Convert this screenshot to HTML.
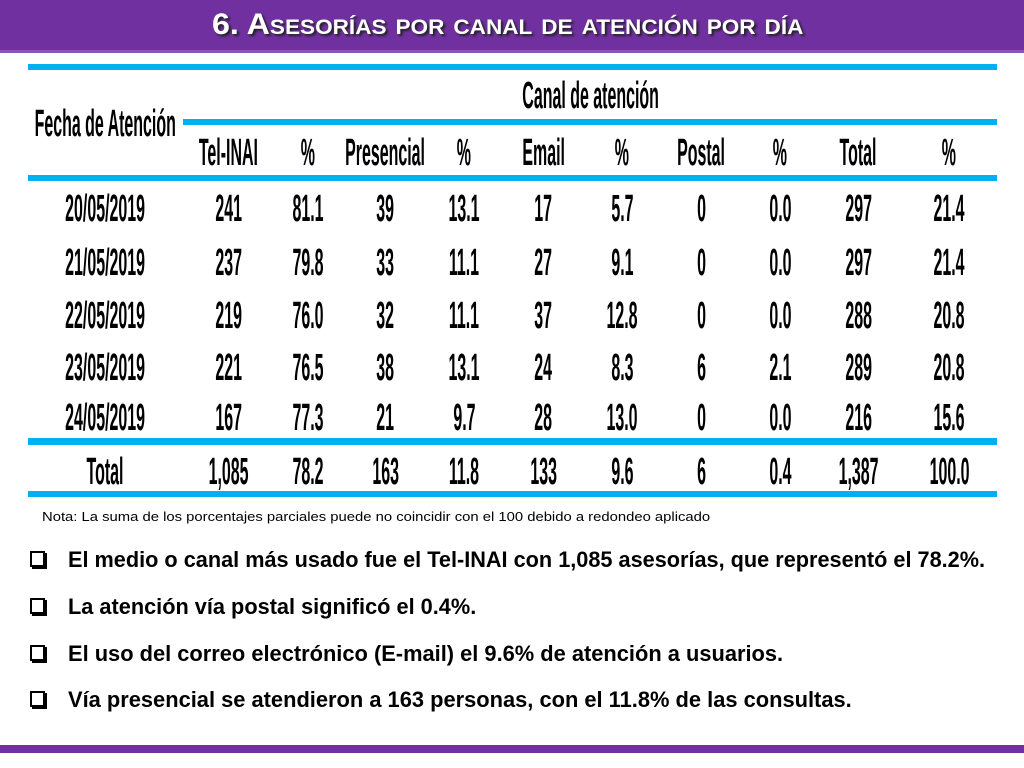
<!DOCTYPE html>
<html><head><meta charset="utf-8">
<style>
body{margin:0;width:1024px;height:768px;background:#fff;position:relative;overflow:hidden;font-family:"Liberation Sans",sans-serif}
.abs{position:absolute;white-space:nowrap}
.fit{transform-origin:left top;display:inline-block}
.bar{position:absolute;background:#00b0f0}
.cell{position:absolute;font-weight:bold;font-size:38px;line-height:38px;color:#000;white-space:nowrap;transform-origin:center center}
</style></head><body>
<div class="abs" style="left:0;top:0;width:1024px;height:50px;background:#7030a0;border-bottom:3px solid #8a55b5"></div>
<div class="abs fit" data-w="591" style="left:212px;top:8px;font-size:30px;font-weight:bold;color:#fff;font-variant:small-caps;text-shadow:2px 2px 2px #222">6. Asesorías por canal de atención por día</div>

<div class="bar" style="left:28px;top:64px;width:969px;height:6px"></div>
<div class="bar" style="left:183px;top:119px;width:814px;height:6px"></div>
<div class="bar" style="left:28px;top:175px;width:969px;height:6px"></div>
<div class="bar" style="left:28px;top:438px;width:969px;height:7px"></div>
<div class="bar" style="left:28px;top:491px;width:969px;height:6px"></div>

<div id="tbl"></div>

<div class="abs fit" data-w="668" style="left:42px;top:509px;font-size:13px;color:#000">Nota: La suma de los porcentajes parciales puede no coincidir con el 100 debido a redondeo aplicado</div>

<div>
<div class="abs" style="left:30px;top:551px;width:11px;height:12px;border:2px solid #000;box-shadow:2px 2px 0 #000"></div>
<div class="abs fit" data-w="917" style="left:68px;top:547px;font-size:22px;font-weight:bold">El medio o canal más usado fue el Tel-INAI con 1,085 asesorías, que representó el 78.2%.</div>
<div class="abs" style="left:30px;top:598px;width:11px;height:12px;border:2px solid #000;box-shadow:2px 2px 0 #000"></div>
<div class="abs fit" data-w="408" style="left:68px;top:594px;font-size:22px;font-weight:bold">La atención vía postal significó el 0.4%.</div>
<div class="abs" style="left:30px;top:645px;width:11px;height:12px;border:2px solid #000;box-shadow:2px 2px 0 #000"></div>
<div class="abs fit" data-w="715" style="left:68px;top:641px;font-size:22px;font-weight:bold">El uso del correo electrónico (E-mail) el 9.6% de atención a usuarios.</div>
<div class="abs" style="left:30px;top:691px;width:11px;height:12px;border:2px solid #000;box-shadow:2px 2px 0 #000"></div>
<div class="abs fit" data-w="784" style="left:68px;top:687px;font-size:22px;font-weight:bold">Vía presencial se atendieron a 163 personas, con el 11.8% de las consultas.</div>
</div>

<div class="abs" style="left:0;top:745px;width:1024px;height:8px;background:#7030a0"></div>

<script>
const headers = ["Tel-INAI","%","Presencial","%","Email","%","Postal","%","Total","%"];
const dates = ["20/05/2019","21/05/2019","22/05/2019","23/05/2019","24/05/2019"];
const telinai = ["241","237","219","221","167"];
const telinaiPct = ["81.1","79.8","76.0","76.5","77.3"];
const presencial = ["39","33","32","38","21"];
const presencialPct = ["13.1","11.1","11.1","13.1","9.7"];
const email = ["17","27","37","24","28"];
const emailPct = ["5.7","9.1","12.8","8.3","13.0"];
const postal = ["0","0","0","6","0"];
const postalPct = ["0.0","0.0","0.0","2.1","0.0"];
const total = ["297","297","288","289","216"];
const totalPct = ["21.4","21.4","20.8","20.8","15.6"];
const totals = ["1,085","78.2","163","11.8","133","9.6","6","0.4","1,387","100.0"];

const colX = [105,228,308,385,464,543,622,701,780,858,949];
const rowY = [209,263,316,368,418];
const tbl = document.getElementById('tbl');
function cell(text, cx, cy, name){
  const d = document.createElement('div');
  d.className = 'cell';
  
  
  d.textContent = text;
  tbl.appendChild(d);
  const w = d.offsetWidth;
  d.style.left = (cx - w/2) + 'px';
  d.style.top = (cy - 19) + 'px';
  d.style.transform = 'scaleX(0.42)';
  return d;
}
cell("Fecha de Atención", colX[0], 124, 'date-header');
cell("Canal de atención", 590, 96, 'channel-header');
headers.forEach((h,i)=>cell(h, colX[i+1], 153, 'column-header'));
const cols = [telinai,telinaiPct,presencial,presencialPct,email,emailPct,postal,postalPct,total,totalPct];
dates.forEach((d,r)=>{
  cell(d, colX[0], rowY[r], 'row-date');
  cols.forEach((c,i)=>cell(c[r], colX[i+1], rowY[r], 'table-cell'));
});
cell("Total", colX[0], 472, 'total-label');
totals.forEach((t,i)=>cell(t, colX[i+1], 472, 'total-cell'));

document.querySelectorAll('.fit').forEach(el=>{
  const w = el.offsetWidth, t = +el.getAttribute('data-w');
  el.style.transform = 'scaleX(' + (t/w) + ')';
});
</script>
</body></html>
